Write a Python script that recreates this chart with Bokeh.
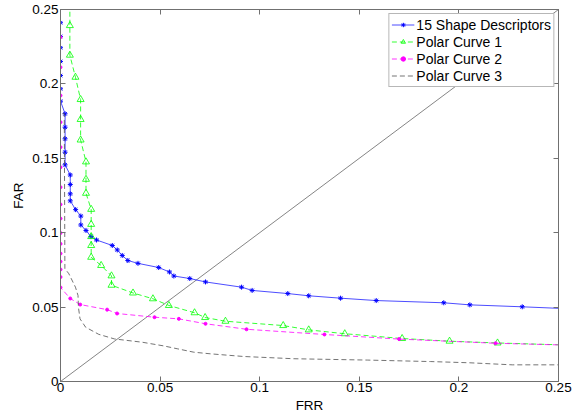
from bokeh.plotting import figure
from bokeh.models import Range1d, LinearAxis, Legend, LegendItem, FixedTicker, CustomJSTickFormatter
from bokeh.embed import file_html
from bokeh.resources import INLINE

# ---- data ----
x_ticks = [0, 0.05, 0.1, 0.15, 0.2, 0.25]
y_ticks = [0, 0.05, 0.1, 0.15, 0.2, 0.25]

desc_frr = [0, 0, 0, 0, 0, 0, 0, 0.0023, 0.0023, 0.0023, 0.0023, 0.0023, 0.0049, 0.0049,
            0.0049, 0.0049, 0.0076, 0.0102, 0.0102, 0.0128, 0.0153, 0.0181, 0.0260, 0.0285,
            0.0310, 0.0338, 0.0389, 0.0493, 0.0547, 0.0569, 0.0649, 0.0728, 0.0909, 0.0962,
            0.1141, 0.1246, 0.1406, 0.1585, 0.1924, 0.2055, 0.2318, 0.2620]
desc_far = [0.2411, 0.2319, 0.2243, 0.2151, 0.2056, 0.1967, 0.1884, 0.1799, 0.1709, 0.1631,
            0.1541, 0.1456, 0.1388, 0.1324, 0.1261, 0.1214, 0.1155, 0.1112, 0.1052, 0.1015,
            0.0974, 0.0951, 0.0914, 0.0884, 0.0847, 0.0813, 0.0794, 0.0766, 0.0736, 0.0709,
            0.0692, 0.0669, 0.0634, 0.0612, 0.0591, 0.0576, 0.0560, 0.0544, 0.0529, 0.0515,
            0.0502, 0.0485]

pc1_frr = [0.0047, 0.0047, 0.0047, 0.0075, 0.0101, 0.0101, 0.0101, 0.0128, 0.0128, 0.0128,
           0.0154, 0.0154, 0.0154, 0.0154, 0.0154, 0.0204, 0.0256, 0.0256, 0.0364, 0.0464,
           0.0544, 0.0673, 0.0726, 0.0828, 0.1118, 0.1246, 0.1427, 0.1715, 0.1953, 0.2194,
           0.2620]
pc1_far = [0.2700, 0.2392, 0.2193, 0.2045, 0.1895, 0.1761, 0.1623, 0.1476, 0.1359, 0.1265,
           0.1157, 0.1056, 0.0974, 0.0914, 0.0835, 0.0780, 0.0710, 0.0647, 0.0595, 0.0556,
           0.0511, 0.0462, 0.0430, 0.0405, 0.0376, 0.0347, 0.0321, 0.0289, 0.0271, 0.0259,
           0.0242]

pc2_frr = [0, 0, 0, 0, 0, 0, 0, 0, 0, 0, 0, 0, 0, 0, 0, 0, 0.0049, 0.0099, 0.0234, 0.0284,
           0.0472, 0.0594, 0.0728, 0.0934, 0.1325, 0.1700, 0.2184, 0.2620]
pc2_far = [0.2314, 0.2112, 0.1922, 0.1743, 0.1575, 0.1440, 0.1306, 0.1190, 0.1095, 0.0998,
           0.0925, 0.0860, 0.0806, 0.0753, 0.0702, 0.0632, 0.0558, 0.0517, 0.0483, 0.0457,
           0.0432, 0.0421, 0.0388, 0.0351, 0.0316, 0.0285, 0.0257, 0.0242]

pc3_frr = [0, 0, 0.0019, 0.0022, 0.0042, 0.0075, 0.0088, 0.0090, 0.0098, 0.0126, 0.0192,
           0.0271, 0.0410, 0.0519, 0.0586, 0.0669, 0.0753, 0.0920, 0.1171, 0.1540, 0.1857,
           0.2050, 0.2268, 0.2620]
pc3_far = [0.2700, 0.1801, 0.1801, 0.0759, 0.0724, 0.0634, 0.0578, 0.0499, 0.0421, 0.0365,
           0.0317, 0.0286, 0.0264, 0.0239, 0.0220, 0.0197, 0.0186, 0.0168, 0.0153, 0.0144,
           0.0134, 0.0126, 0.0112, 0.0112]

diag_x = [0, 0.25]
diag_y = [0, 0.25]

FONT = "Liberation Sans"
AX_COL = "#707070"

p = figure(width=575, height=416, output_backend="svg", toolbar_location=None,
           x_range=Range1d(0, 0.25), y_range=Range1d(0, 0.25),
           min_border_left=60, min_border_right=17, min_border_top=9, min_border_bottom=35,
           x_axis_label="FRR", y_axis_label="FAR")
p.xgrid.visible = False
p.ygrid.visible = False
p.outline_line_color = AX_COL
p.outline_line_width = 1
p.background_fill_color = "white"
p.border_fill_color = "white"

fmt = CustomJSTickFormatter(code="return String(Math.round(tick*100)/100);")
for ax, ticks in ((p.xaxis[0], x_ticks), (p.yaxis[0], y_ticks)):
    ax.ticker = FixedTicker(ticks=ticks)
    ax.formatter = fmt
    ax.minor_tick_line_color = None
    ax.major_tick_in = 5
    ax.major_tick_out = 0
    ax.major_tick_line_color = AX_COL
    ax.axis_line_color = AX_COL
    ax.major_label_text_font = FONT
    ax.major_label_text_font_size = "13.5px"
    ax.major_label_text_color = "black"
    ax.axis_label_text_font = FONT
    ax.axis_label_text_font_size = "13.5px"
    ax.axis_label_text_font_style = "normal"
    ax.axis_label_text_color = "black"
p.xaxis[0].major_label_standoff = 1
p.xaxis[0].axis_label_standoff = 3
p.yaxis[0].major_label_standoff = 2
p.yaxis[0].axis_label_standoff = 3

blank = CustomJSTickFormatter(code="return '';")
for loc, ticks in (("above", x_ticks), ("right", y_ticks)):
    ax = LinearAxis(ticker=FixedTicker(ticks=ticks), formatter=blank)
    ax.major_label_standoff = 0
    ax.minor_tick_line_color = None
    ax.major_tick_in = 5
    ax.major_tick_out = 0
    ax.major_tick_line_color = AX_COL
    ax.axis_line_color = AX_COL
    p.add_layout(ax, loc)

# diagonal
p.line(diag_x, diag_y, line_color="#505050", line_width=0.7)

l1 = p.line(desc_frr, desc_far, line_color="#2020ff", line_width=0.8)
s1 = p.scatter(desc_frr, desc_far, marker="asterisk", size=5, line_color="#0000ff", line_width=1)

l2 = p.line(pc1_frr, pc1_far, line_color="#00ff00", line_width=0.8, line_dash="5 3")
s2 = p.scatter(pc1_frr, pc1_far, marker="triangle", size=7, line_color="#00ff00",
               fill_color=None, line_width=0.8)

l3 = p.line(pc2_frr, pc2_far, line_color="#ff00ff", line_width=0.8, line_dash="5 3")
s3 = p.scatter(pc2_frr, pc2_far, marker="circle", size=3, line_color="#ff00ff",
               fill_color="#ff00ff")

l4 = p.line(pc3_frr, pc3_far, line_color="#505050", line_width=0.8, line_dash="5 3")

legend = Legend(items=[
    LegendItem(label="15 Shape Descriptors", renderers=[l1, s1]),
    LegendItem(label="Polar Curve 1", renderers=[l2, s2]),
    LegendItem(label="Polar Curve 2", renderers=[l3, s3]),
    LegendItem(label="Polar Curve 3", renderers=[l4]),
], location="top_right")
legend.margin = 4
legend.padding = 2
legend.spacing = 0
legend.label_height = 17
legend.glyph_height = 11
legend.glyph_width = 23
legend.label_standoff = 2
legend.label_text_font = FONT
legend.label_text_font_size = "14px"
legend.label_text_color = "black"
legend.border_line_color = AX_COL
legend.border_line_width = 1
legend.background_fill_color = "white"
legend.background_fill_alpha = 1
p.add_layout(legend)

open("out.html", "w").write(file_html(p, INLINE))
